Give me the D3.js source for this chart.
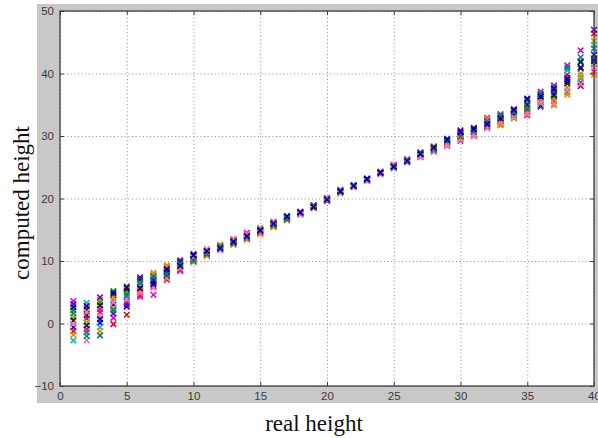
<!DOCTYPE html>
<html>
<head>
<meta charset="utf-8">
<script src="https://cdn.jsdelivr.net/npm/d3@7"></script>
<style>
  body { margin: 0; background: #fff; }
  svg { display: block; }
</style>
</head>
<body>
<svg id="chart"></svg>
<script>
// real heights (x) and tick labels
var realHeight = [1,2,3,4,5,6,7,8,9,10,11,12,13,14,15,16,17,18,19,20,
                  21,22,23,24,25,26,27,28,29,30,31,32,33,34,35,36,37,38,39,40];
var xTicks = [0, 5, 10, 15, 20, 25, 30, 35, 40];
var yTicks = [-10, 0, 10, 20, 30, 40, 50];

// computed heights, one array per run
var runA = [-0.6,1.3,0.1,3.0,2.7,5.9,6.6,8.1,9.6,10.4,11.3,12.1,13.0,13.9,14.8,15.8,16.9,17.6,18.7,19.8,21.1,22.0,23.0,24.1,25.1,26.0,27.0,27.9,29.0,30.1,30.6,32.0,32.6,33.6,34.6,36.0,36.7,38.7,40.8,43.0];
var runB = [2.1,-1.4,3.4,5.2,4.9,5.0,7.7,7.5,9.2,10.7,11.0,12.4,13.3,14.2,15.1,16.1,16.7,17.8,18.6,19.9,21.0,22.1,23.1,24.0,25.0,26.2,26.8,28.2,28.7,29.5,30.9,31.6,33.2,33.2,35.2,35.1,37.5,37.0,42.0,41.5];
var runC = [-1.2,0.8,1.8,-0.1,1.4,4.6,6.0,7.0,8.6,9.9,11.6,11.9,13.2,14.4,14.4,15.5,17.0,17.5,18.8,20.0,21.3,21.9,22.9,24.2,25.3,25.9,27.2,28.0,29.3,30.5,30.2,32.5,32.0,34.1,34.0,36.4,35.6,39.8,38.6,46.4];
var runD = [-2.7,3.3,-0.6,3.8,4.2,6.8,7.3,8.9,9.9,10.2,11.7,12.3,12.7,14.0,15.0,15.9,17.1,17.7,18.5,19.7,20.9,22.2,23.2,23.9,24.8,26.1,27.1,28.4,29.6,29.8,31.0,31.8,32.9,32.8,35.6,34.9,36.2,40.5,39.2,44.6];
var runE = [3.6,-0.9,2.3,0.9,3.5,4.3,4.6,8.5,8.4,11.0,10.9,12.5,13.5,14.5,14.6,16.3,16.6,17.9,18.9,20.1,21.4,21.8,22.8,24.3,25.4,26.3,26.6,27.5,28.4,29.2,30.0,32.9,33.5,34.3,33.3,37.1,38.1,41.3,43.7,40.3];
var runF = [1.0,0.2,3.8,2.5,5.2,6.2,7.9,9.1,9.3,10.8,11.4,11.8,13.1,13.7,15.3,15.6,16.8,17.7,18.6,19.9,20.8,22.0,23.1,24.1,24.9,26.0,27.3,28.1,28.9,30.4,30.5,31.2,31.7,33.9,34.8,35.5,35.8,37.8,40.0,45.2];
var runG = [0.5,-0.3,2.9,4.6,5.5,7.1,6.8,7.7,9.8,10.3,11.2,12.2,13.2,14.1,14.9,15.9,16.9,17.6,18.7,19.8,21.1,22.0,23.0,24.1,25.1,26.1,27.0,28.0,29.1,30.0,30.8,32.2,32.4,33.5,35.0,36.6,36.5,38.4,41.0,42.4];
var runH = [3.1,2.3,4.2,1.6,3.1,7.4,7.0,8.3,10.1,11.1,11.5,12.0,12.9,13.6,14.7,16.0,17.2,17.8,18.9,19.6,21.2,22.1,23.2,24.2,25.2,25.8,27.4,27.7,29.5,30.9,31.3,31.5,33.0,34.0,35.8,34.7,37.2,39.3,38.0,47.0];
var runI = [-1.8,1.8,-1.2,4.2,6.0,5.3,8.1,9.3,8.8,9.8,10.8,12.6,12.6,13.4,14.3,15.4,16.5,17.4,18.4,20.0,21.0,21.9,22.9,24.0,25.3,26.2,26.9,28.3,28.6,29.6,30.3,32.7,31.9,32.9,33.7,35.7,34.9,36.6,39.6,39.8];
var runJ = [-0.1,-2.7,1.2,3.4,3.8,4.9,5.7,7.2,9.0,10.6,11.9,11.7,13.4,14.3,15.2,16.2,17.0,17.5,18.5,19.7,20.9,21.9,22.8,23.9,24.9,25.9,26.7,27.6,28.5,29.4,30.1,31.3,32.2,33.0,33.5,35.3,35.2,37.3,38.3,41.0];
var runK = [1.6,-2.0,-1.9,2.1,4.5,6.5,7.5,7.9,9.5,10.0,11.1,12.3,12.8,13.8,15.0,15.7,16.7,17.7,18.8,19.9,21.2,22.1,23.0,24.2,25.0,26.1,27.2,27.8,29.2,29.9,30.7,32.4,33.3,33.8,34.3,36.8,37.8,40.9,42.6,44.0];
var runL = [2.6,2.8,0.7,4.9,5.8,5.6,6.3,8.7,9.2,10.9,11.6,12.0,13.1,14.0,14.9,16.0,17.1,17.8,18.6,19.8,21.1,22.0,23.1,24.1,25.1,26.0,27.1,28.2,29.4,30.6,31.1,31.9,32.8,34.2,36.0,36.3,37.6,39.0,41.8,42.0];

var runs = [runA, runB, runC, runD, runE, runF, runG, runH, runI, runJ, runK, runL];
var runColors = ['#0000ff','#00a000','#ff0000','#00c0c0','#e000e0','#b0a000',
                 '#202020','#6000c0','#ff8000','#ff70b0','#008080','#0000a0'];

function main() {
    const width = 598;
    const height = 438;
    const left = 60, right = 594, top = 11, bottom = 386;

    const svg = d3.select('#chart')
        .attr('width', width)
        .attr('height', height);

    // gray figure panel
    svg.append('rect')
        .attr('x', 37).attr('y', 4)
        .attr('width', width - 37).attr('height', 399)
        .attr('fill', '#c8c8c8');

    // axes area
    svg.append('rect')
        .attr('x', left).attr('y', top)
        .attr('width', right - left).attr('height', bottom - top)
        .attr('fill', '#fff');

    var x = d3.scaleLinear().domain([0, 40]).range([left, right]);
    var y = d3.scaleLinear().domain([-10, 50]).range([bottom, top]);

    // dotted grid
    svg.append('g')
        .attr('transform', 'translate(0,' + bottom + ')')
        .call(d3.axisBottom(x).tickValues(xTicks).tickSize(-(bottom - top)).tickFormat(''))
        .call(g => g.select('.domain').remove())
        .selectAll('line')
        .attr('stroke', '#8a8a8a')
        .attr('stroke-dasharray', '1,2.6');
    svg.append('g')
        .attr('transform', 'translate(' + left + ',0)')
        .call(d3.axisLeft(y).tickValues(yTicks).tickSize(-(right - left)).tickFormat(''))
        .call(g => g.select('.domain').remove())
        .selectAll('line')
        .attr('stroke', '#8a8a8a')
        .attr('stroke-dasharray', '1,2.6');

    // markers 'x'
    var r = 2.8;
    runs.forEach(function(run, k) {
        var pts = realHeight.map((h, i) => [h, run[i]]);
        var g = svg.append('g')
            .attr('stroke', runColors[k])
            .attr('stroke-width', 1.6);
        g.selectAll('path')
            .data(pts)
            .join('path')
            .attr('d', function(d) {
                var cx = x(d[0]), cy = y(d[1]);
                return 'M' + (cx - r) + ',' + (cy - r) + 'L' + (cx + r) + ',' + (cy + r) +
                       'M' + (cx - r) + ',' + (cy + r) + 'L' + (cx + r) + ',' + (cy - r);
            });
    });

    // axes with inward ticks
    function styleAxis(g) {
        g.selectAll('.domain').remove();
        g.selectAll('line').attr('stroke', '#404040');
        g.selectAll('text')
            .attr('fill', '#3a3a3a')
            .style('font-family', 'Arial, "Liberation Sans", sans-serif')
            .style('font-size', '11.5px');
    }
    svg.append('g')
        .attr('transform', 'translate(0,' + bottom + ')')
        .call(d3.axisBottom(x).tickValues(xTicks).tickSizeInner(-4).tickSizeOuter(0).tickPadding(6))
        .call(styleAxis);
    svg.append('g')
        .attr('transform', 'translate(0,' + top + ')')
        .call(d3.axisTop(x).tickValues(xTicks).tickSizeInner(-4).tickSizeOuter(0).tickFormat(''))
        .call(styleAxis);
    svg.append('g')
        .attr('transform', 'translate(' + left + ',0)')
        .call(d3.axisLeft(y).tickValues(yTicks).tickSizeInner(-4).tickSizeOuter(0).tickPadding(6))
        .call(styleAxis);
    svg.append('g')
        .attr('transform', 'translate(' + right + ',0)')
        .call(d3.axisRight(y).tickValues(yTicks).tickSizeInner(-4).tickSizeOuter(0).tickFormat(''))
        .call(styleAxis);

    // box
    svg.append('rect')
        .attr('x', left).attr('y', top)
        .attr('width', right - left).attr('height', bottom - top)
        .attr('fill', 'none')
        .attr('stroke', '#404040')
        .attr('stroke-width', 1.3);

    // axis titles
    svg.append('text')
        .attr('x', 314).attr('y', 431)
        .attr('text-anchor', 'middle')
        .style('font-family', '"Liberation Serif", "Times New Roman", serif')
        .style('font-size', '23px')
        .attr('fill', '#111')
        .text('real height');
    svg.append('text')
        .attr('transform', 'translate(29,203) rotate(-90)')
        .attr('text-anchor', 'middle')
        .style('font-family', '"Liberation Serif", "Times New Roman", serif')
        .style('font-size', '23px')
        .attr('fill', '#111')
        .text('computed height');
}
main();
</script>
</body>
</html>
